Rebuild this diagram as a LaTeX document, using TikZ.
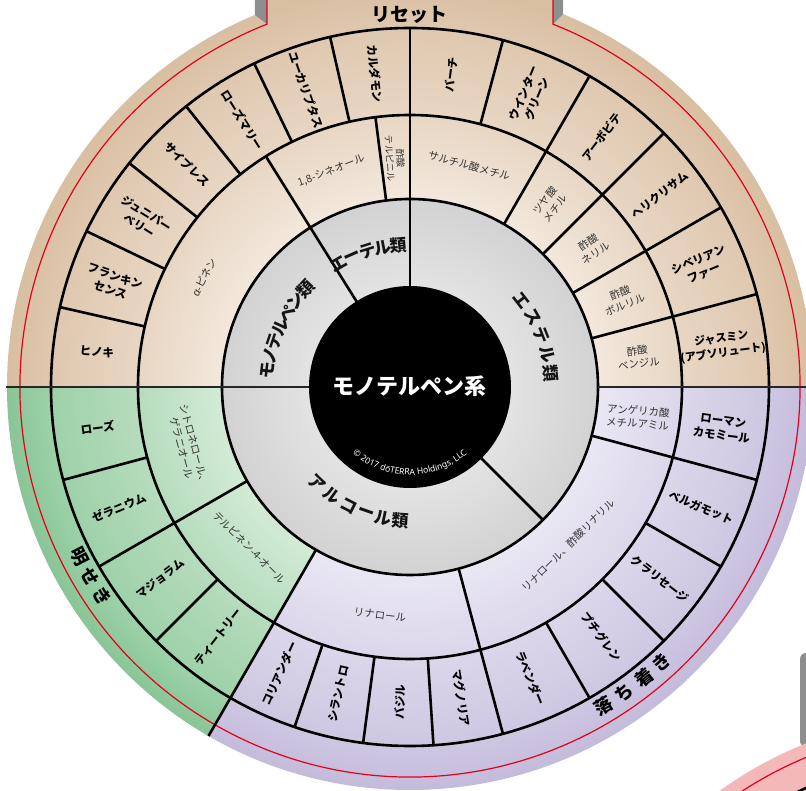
\documentclass[tikz,border=0pt]{standalone}
\usepackage{fontspec}
\setmainfont{Noto Sans CJK JP}
\newfontfamily\latinsans{Noto Sans}
\usetikzlibrary{decorations.text}

\definecolor{tanA}{HTML}{F3E8DC}
\definecolor{tanB}{HTML}{E8D6C3}
\definecolor{tanC}{HTML}{DFC8AF}
\definecolor{tanD}{HTML}{D9BFA1}
\definecolor{grnA}{HTML}{D3EBD6}
\definecolor{grnB}{HTML}{B6DCBD}
\definecolor{grnC}{HTML}{9ED1A9}
\definecolor{grnD}{HTML}{89C597}
\definecolor{lavA}{HTML}{EAE7F3}
\definecolor{lavB}{HTML}{DBD6EA}
\definecolor{lavC}{HTML}{CEC7E2}
\definecolor{lavD}{HTML}{C4BBDB}
\definecolor{gryA}{HTML}{E3E3E3}
\definecolor{gryB}{HTML}{D2D2D2}
\definecolor{tabgray}{HTML}{8E8E8E}
\definecolor{pinkA}{HTML}{F4B8B8}
\definecolor{pinkB}{HTML}{F8D3D3}
\definecolor{redline}{HTML}{E3001B}

\pgfdeclareradialshading{tanshade}{\pgfpoint{0bp}{0bp}}{color(0bp)=(tanA); color(11.66bp)=(tanA); color(16.87bp)=(tanB); color(22.27bp)=(tanC); color(25bp)=(tanD); color(50bp)=(tanD)}
\pgfdeclareradialshading{grnshade}{\pgfpoint{0bp}{0bp}}{color(0bp)=(grnA); color(11.66bp)=(grnA); color(16.87bp)=(grnB); color(22.27bp)=(grnC); color(25bp)=(grnD); color(50bp)=(grnD)}
\pgfdeclareradialshading{lavshade}{\pgfpoint{0bp}{0bp}}{color(0bp)=(lavA); color(11.66bp)=(lavA); color(16.87bp)=(lavB); color(22.27bp)=(lavC); color(25bp)=(lavD); color(50bp)=(lavD)}
\pgfdeclareradialshading{gryshade}{\pgfpoint{0bp}{0bp}}{color(0bp)=(gryA); color(13.3bp)=(gryA); color(25bp)=(gryB); color(50bp)=(gryB)}

\begin{document}
\begin{tikzpicture}[x=1pt,y=1pt,
  wl/.style={line width=2.6pt, draw=black},
  hline/.style={line width=2.8pt, draw=black!85},
  oil/.style={font=\fontsize{11.5}{14.5}\selectfont\bfseries, align=center, inner sep=0pt, text=black},
  comp/.style={font=\fontsize{10.5}{13}\selectfont, align=center, inner sep=0pt, text=black!80},
  clsch/.style={font=\fontsize{17}{17}\selectfont\bfseries, inner sep=0pt, text=black!92},
  bandch/.style={font=\fontsize{18}{18}\selectfont\bfseries, inner sep=0pt, text=black}]
\useasboundingbox (-410,-404) rectangle (396,387);

% ---- neighbouring wheel (bottom right) and its tab
\fill[tabgray, rounded corners=6] (390,-360) -- (390,-266) -- (430,-266) -- (430,-360) -- cycle;
\fill[pinkA] (545,-731) circle (403);
\draw[redline, line width=1.2pt] (545,-731) circle (390);
\draw[wl, fill=pinkB] (545,-731) circle (362);

% ---- top tab
\fill[tanD] (-143,360) rectangle (143,400);

% ---- coloured sectors
\begin{scope}
  \clip (0,0) -- (0:420) arc[start angle=0, end angle=180, radius=420] -- cycle;
  \shade[shading=tanshade] (0,0) circle (403);
\end{scope}
\begin{scope}
  \clip (0,0) -- (180:420) arc[start angle=180, end angle=240, radius=420] -- cycle;
  \shade[shading=grnshade] (0,0) circle (403);
\end{scope}
\begin{scope}
  \clip (0,0) -- (240:420) arc[start angle=240, end angle=360, radius=420] -- cycle;
  \shade[shading=lavshade] (0,0) circle (403);
\end{scope}
\shade[shading=gryshade] (0,0) circle (188);

% tab sides
\fill[tabgray] (-155,400) -- (-155,372) -- (-143,362.8) -- (-143,400) -- cycle;
\fill[tabgray] (153,400) -- (153,372.8) -- (143,362.8) -- (143,400) -- cycle;

% red cut line
\draw[redline, line width=1.2pt] (-143,400) -- (111.5:390) arc[start angle=111.5, end angle=428.5, radius=390] -- (143,400);

% ---- ring circles
\draw[wl] (0,0) circle (188);
\draw[wl] (0,0) circle (272);
\draw[wl] (0,0) circle (359);

% ---- dividing lines
\draw[hline] (180:404) -- (180:100);
\draw[hline] (0:188) -- (0:404);
\foreach \a in {15,30,45,60,210,285,345} \draw[wl] (\a:188) -- (\a:359);
\foreach \a in {75,102.857,115.714,128.571,141.429,154.286,167.143,195,225,251.25,262.5,273.75,300,315,330} \draw[wl] (\a:272) -- (\a:359);
\draw[wl] (90:100) -- (90:359);
\draw[wl] (122:100) -- (122:272);
\draw[wl] (97.3:188) -- (97.3:272);
\draw[wl] (-45:100) -- (-45:188);
\draw[wl] (240:188) -- (240:403);

% ---- centre
\fill[black] (0,0) circle (101);
\node[font=\fontsize{22}{22}\selectfont\bfseries, text=white, inner sep=0pt] (centre) at (0,1) {モノテルペン系};
\path[decorate, decoration={text along path, text align=center,
  text={|\latinsans\fontsize{8.6}{8.6}\selectfont\color{white}|© 2017 dōTERRA Holdings, LLC}}]
  (222:88) arc[start angle=222, end angle=318, radius=88];

% ---- class names (gray ring)
\foreach \c [count=\i from 0] in {モ,ノ,テ,ル,ペ,ン,類}
  \node[clsch, rotate={173.5-6.1*\i-90}] (mono\i) at ({173.5-6.1*\i}:143) {\c};
\foreach \c [count=\i from 0] in {エ,ー,テ,ル,類}
  \node[clsch, rotate={120-6.3*\i-90}] (ether\i) at ({120-6.3*\i}:142) {\c};
\foreach \c/\a [count=\i] in {エ/38, ス/29.6, テ/21.4, ル/13.4, 類/5.6}
  \node[clsch, rotate={\a-90}] (ester\i) at (\a:141) {\c};
\foreach \c/\a [count=\i] in {ア/226, ル/234.4, コ/242.8, ー/250.6, ル/258.4, 類/266}
  \node[clsch, rotate={\a+90}] (alc\i) at (\a:134) {\c};

% ---- compounds (middle ring)
\node[comp, rotate=62] (c1) at (152:233) {α-ピネン};
\node[comp, rotate=21] (c2) at (110:230) {1,8-シネオール};
\node[comp, font=\fontsize{9.3}{10.5}\selectfont, rotate=-86.3] (c3) at (93.7:229) {酢酸\\テルピニル};
\node[comp, rotate=-15] (c4) at (75:229) {サルチル酸メチル};
\node[comp, rotate=52.5] (c5) at (52.5:230) {ツヤ酸\\メチル};
\node[comp, rotate=34] (c6) at (37.5:229) {酢酸\\ネリル};
\node[comp, rotate=22.5] (c7) at (22.5:230) {酢酸\\ボルリル};
\node[comp, rotate=7.5] (c8) at (7.5:230) {酢酸\\ベンジル};
\node[comp, rotate=-75] (c9) at (195:230) {シトロネロール、\\ゲラニオール};
\node[comp, rotate=-45] (c10) at (225:227) {テルピネン-4-オール};
\node[comp, rotate=-7.5] (c11) at (262.5:230) {リナロール};
\node[comp, rotate=45] (c12) at (315:224) {リナロール、酢酸リナリル};
\node[comp, rotate=-4] (c13) at (352.5:230) {アンゲリカ酸\\メチルアミル};

% ---- oils (outer ring)
\node[oil, font=\fontsize{11}{14.5}\selectfont\bfseries, rotate=7.5] (o1) at (7.5:315) {ジャスミン\\(アブソリュート)};
\node[oil, rotate=22.5] (o2) at (22.5:315) {シベリアン\\ファー};
\node[oil, rotate=37.5] (o3) at (37.5:315) {ヘリクリサム};
\node[oil, rotate=52.5] (o4) at (52.5:315) {アーボビテ};
\node[oil, rotate=67.5] (o5) at (67.5:315) {ウインター\\グリーン};
\node[oil, rotate=82.5] (o6) at (82.5:315) {バーチ};
\node[oil, rotate=-83.57] (o7) at (96.43:315) {カルダモン};
\node[oil, rotate=-70.71] (o8) at (109.29:315) {ユーカリプタス};
\node[oil, rotate=-57.86] (o9) at (122.14:315) {ローズマリー};
\node[oil, rotate=-45] (o10) at (135:315) {サイプレス};
\node[oil, rotate=-32.14] (o11) at (147.86:315) {ジュニパー\\ベリー};
\node[oil, rotate=-19.29] (o12) at (160.71:315) {フランキン\\センス};
\node[oil, rotate=-6.43] (o13) at (173.57:315) {ヒノキ};
\node[oil, rotate=7.5] (o14) at (187.5:315) {ローズ};
\node[oil, rotate=22.5] (o15) at (202.5:315) {ゼラニウム};
\node[oil, rotate=37.5] (o16) at (217.5:315) {マジョラム};
\node[oil, rotate=52.5] (o17) at (232.5:315) {ティートリー};
\node[oil, rotate=65.625] (o18) at (245.625:315) {コリアンダー};
\node[oil, rotate=76.875] (o19) at (256.875:315) {シラントロ};
\node[oil, rotate=88.125] (o20) at (268.125:315) {バジル};
\node[oil, rotate=-80.625] (o21) at (279.375:315) {マグノリア};
\node[oil, rotate=-67.5] (o22) at (292.5:315) {ラベンダー};
\node[oil, rotate=-52.5] (o23) at (307.5:315) {プチグレン};
\node[oil, rotate=-37.5] (o24) at (322.5:315) {クラリセージ};
\node[oil, rotate=-22.5] (o25) at (337.5:315) {ベルガモット};
\node[oil, rotate=-7.5] (o26) at (352.5:315) {ローマン\\カモミール};

% ---- band labels
\node[bandch, font=\fontsize{19}{19}\selectfont\bfseries] (reset) at (0,372) {リセット};
\foreach \c/\a [count=\i] in {明/207.2, せ/210.7, き/214.2}
  \node[bandch, rotate={\a+90}] (clar\i) at (\a:372) {\c};
\foreach \c/\a [count=\i] in {落/301.3, ち/305, 着/308.8, き/312.5}
  \node[bandch, rotate={\a+90}] (calm\i) at (\a:373) {\c};
\end{tikzpicture}
\end{document}
